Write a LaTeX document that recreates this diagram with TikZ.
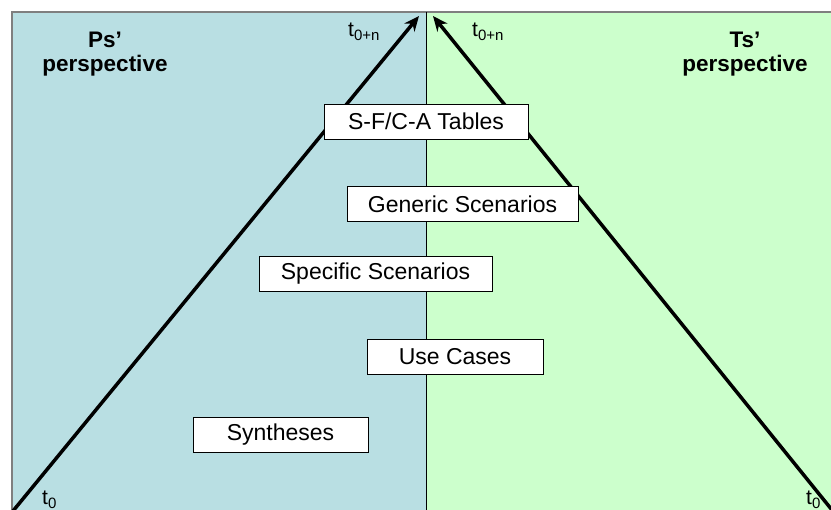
\documentclass[tikz,border=0pt]{standalone}
\usepackage{fontspec}
\setmainfont{Liberation Sans}
\usetikzlibrary{arrows.meta}
\definecolor{psblue}{HTML}{B9DFE3}
\definecolor{tsgreen}{HTML}{CCFFCC}
\definecolor{rimgray}{HTML}{7F7F7F}
\newcommand{\tsub}[1]{\raisebox{-0.35ex}{\fontsize{15}{17}\selectfont #1}}
\tikzset{
  stagebox/.style={draw=black, line width=0.8pt, fill=white, minimum height=35pt, inner sep=0pt,
    font=\fontsize{23}{27}\selectfont},
  persp/.style={font=\bfseries\fontsize{22.5}{24}\selectfont, align=center},
  timelbl/.style={font=\fontsize{21}{23}\selectfont, inner sep=0pt},
  timearrow/.style={line width=3.5pt, -{Stealth[length=15pt,width=13pt]}},
}
\begin{document}
\begin{tikzpicture}[x=1pt,y=-1pt]
\useasboundingbox (0,0) rectangle (831,510);
\fill[white] (0,0) rectangle (831,510);
\fill[psblue] (12,12) rectangle (426,510);
\fill[tsgreen] (426,12) rectangle (831,510);
\draw[rimgray, line width=1.5pt] (12,510) -- (12,12) -- (831,12);
\draw[black, line width=0.8pt] (426,12) -- (426,510);

\coordinate (pstart) at (13,511);
\coordinate (pend) at (419,16);
\coordinate (tstart) at (832,510);
\coordinate (tend) at (433,16);
\draw[timearrow] (pstart) -- (pend);
\draw[timearrow] (tstart) -- (tend);

\node[persp] (ps) at (105,54) {Ps’\\perspective};
\node[persp] (ts) at (745,54) {Ts’\\perspective};

\node[timelbl, anchor=base west] (tpn) at (348,37) {t\tsub{0+n}};
\node[timelbl, anchor=base west] (ttn) at (472,37) {t\tsub{0+n}};
\node[timelbl, anchor=base west] (tp0) at (42,505) {t\tsub{0}};
\node[timelbl, anchor=base west] (tt0) at (806,505) {t\tsub{0}};

\node[stagebox, minimum width=204pt] (sfca) at (426,121.5) {S-F/C-A Tables};
\node[stagebox, minimum width=231pt] (gen) at (462.5,204) {Generic Scenarios};
\node[stagebox, minimum width=233pt] (spec) at (375.5,273.5) {Specific Scenarios};
\node[stagebox, minimum width=176pt] (use) at (455,357) {Use Cases};
\node[stagebox, minimum width=175pt] (syn) at (280.5,434.5) {Syntheses};
\end{tikzpicture}
\end{document}
